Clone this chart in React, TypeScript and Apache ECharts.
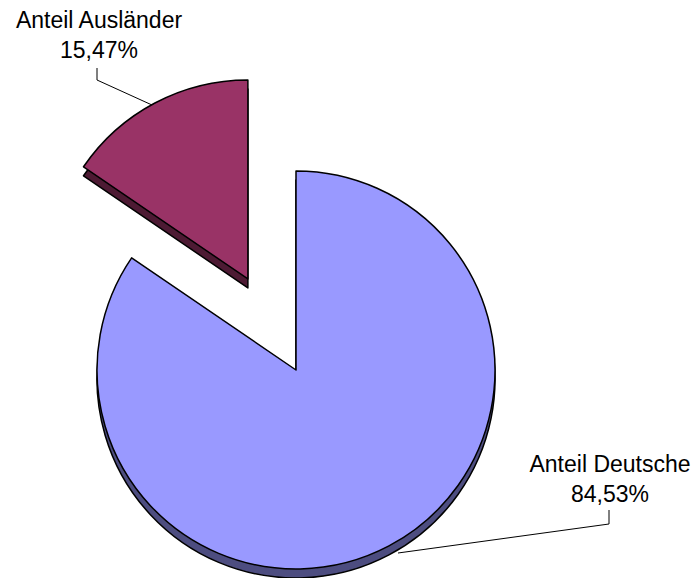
import React, { useEffect, useRef } from 'react';
import * as echarts from 'echarts';

const categories = ['Anteil Deutsche', 'Anteil Ausländer'];
const shares = [84.53, 15.47];
const exploded = [false, true];
const topColors = ['#9999FF', '#993366'];
const sideColors = ['#4D4D80', '#4D1A33'];

export default function App() {
  const ref = useRef<HTMLDivElement>(null);
  useEffect(() => {
    const chart = echarts.init(ref.current!, null, { renderer: 'svg' });
    const cx = 296;
    const cy = 370;
    const r = 199;
    const depth = 9;
    const explode = 103;
    const labelPos = [
      { x: 610, y: 479, line: [[609, 510], [609, 524], [398, 553]] },
      { x: 99, y: 35, line: [[97, 68], [97, 80], [152, 105]] },
    ];
    const mk = (colors: string[]) =>
      categories.map((name, i) => ({
        name,
        value: shares[i],
        selected: exploded[i],
        itemStyle: { color: colors[i] },
        select: { itemStyle: { color: colors[i] } },
      }));
    const total = shares.reduce((a, b) => a + b, 0);
    const labelText = (i: number) =>
      categories[i] + '\n' + ((shares[i] / total) * 100).toFixed(2).replace('.', ',') + '%';
    const graphics: any[] = [];
    categories.forEach((_, i) => {
      const pos = labelPos[i];
      graphics.push({
        type: 'polyline',
        silent: true,
        z: 10,
        shape: { points: pos.line },
        style: { stroke: '#000', lineWidth: 1, fill: 'none' },
      });
      graphics.push({
        type: 'text',
        silent: true,
        z: 10,
        x: pos.x,
        y: pos.y,
        style: {
          text: labelText(i),
          fill: '#000',
          fontFamily: 'Liberation Sans, Arial, sans-serif',
          fontSize: 23,
          lineHeight: 30,
          align: 'center',
          verticalAlign: 'middle',
        },
      });
    });
    const base = {
      type: 'pie',
      radius: r,
      startAngle: 90,
      clockwise: true,
      selectedMode: 'multiple',
      selectedOffset: explode,
      silent: true,
      avoidLabelOverlap: false,
      label: { show: false },
      labelLine: { show: false },
      itemStyle: { borderColor: '#000', borderWidth: 1.5 },
      emphasis: { disabled: true },
    };
    chart.setOption({
      animation: false,
      graphic: graphics,
      series: [
        { ...base, center: [cx, cy + depth], z: 1, data: mk(sideColors) },
        { ...base, center: [cx, cy], z: 2, data: mk(topColors) },
      ],
    });
    return () => chart.dispose();
  }, []);
  return (
    <div
      ref={ref}
      style={{ position: 'absolute', left: 0, top: 0, width: 694, height: 578, background: '#fff' }}
    />
  );
}
